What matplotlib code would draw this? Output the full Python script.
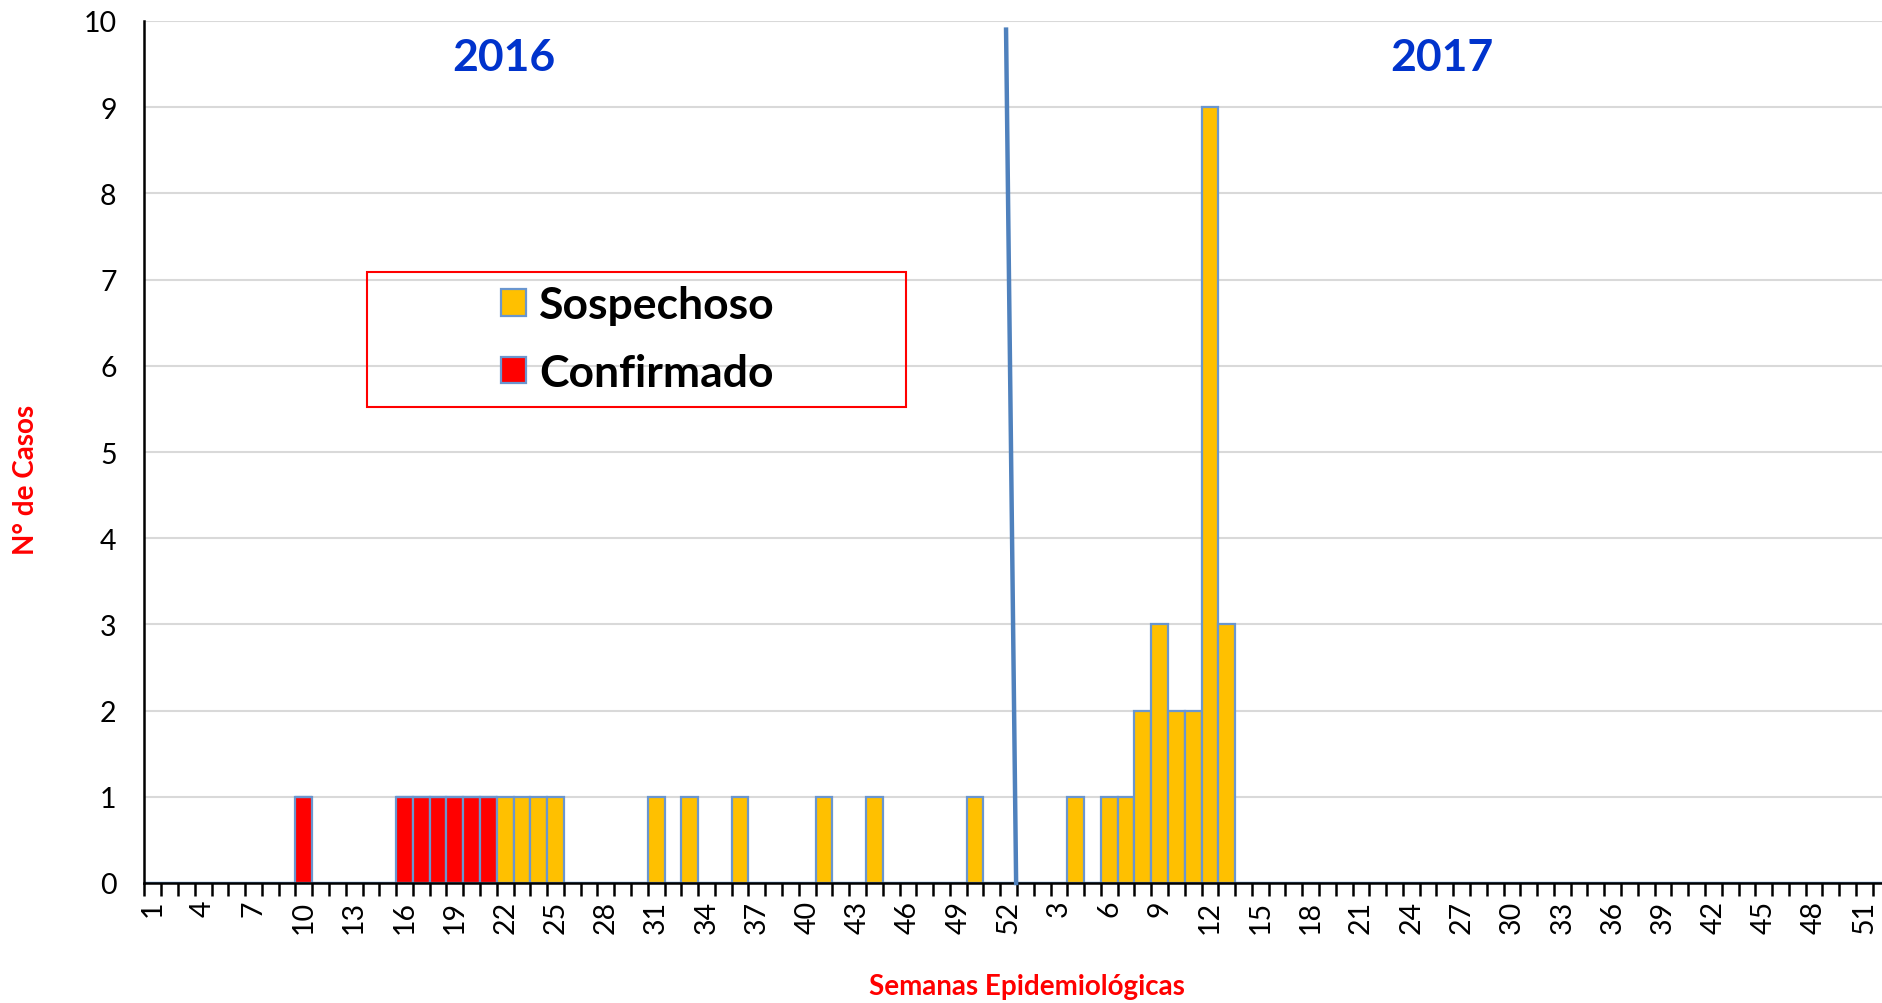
import matplotlib
matplotlib.use("Agg")
import matplotlib.pyplot as plt
from matplotlib.patches import Patch, Rectangle
import numpy as np

# weeks of each year shown on the x axis
weeks_2016 = list(range(1, 53))
weeks_2017 = list(range(1, 53))

# confirmed cases (2016)
conf_2016_weeks = [10, 16, 17, 18, 19, 20, 21]
conf_2016_counts = [1, 1, 1, 1, 1, 1, 1]

# suspected cases
susp_2016_weeks = [22, 23, 24, 25, 31, 33, 36, 41, 44, 50]
susp_2016_counts = [1, 1, 1, 1, 1, 1, 1, 1, 1, 1]
susp_2017_weeks = [4, 6, 7, 8, 9, 10, 11, 12, 13]
susp_2017_counts = [1, 1, 1, 2, 3, 2, 2, 9, 3]

# hand-drawn year separator (x in category index, y in cases)
sep_x = [50.85, 51.45]
sep_y = [9.9, 0]

FONT = ["Lato", "DejaVu Sans"]
plt.rcParams["font.family"] = FONT

C_SUSP = "#FFC000"
C_CONF = "#FF0000"
C_EDGE = "#6A96CF"

n_cat = len(weeks_2016) + len(weeks_2017)
susp = np.zeros(n_cat)
conf = np.zeros(n_cat)
for w, c in zip(conf_2016_weeks, conf_2016_counts):
    conf[w - 1] = c
for w, c in zip(susp_2016_weeks, susp_2016_counts):
    susp[w - 1] = c
for w, c in zip(susp_2017_weeks, susp_2017_counts):
    susp[len(weeks_2016) + w - 1] = c

labels = [str(w) for w in weeks_2016] + [str(w) for w in weeks_2017]
x = np.arange(n_cat)

W, H = 1883, 1004
fig = plt.figure(figsize=(W / 100, H / 100), dpi=100)
ax = fig.add_axes([144.4 / W, 1 - 884 / H, n_cat * 16.78 / W, (884 - 22) / H])

ax.bar(x, conf, width=1.0, color=C_CONF, edgecolor=C_EDGE, linewidth=1.6, zorder=3)
ax.bar(x, susp, width=1.0, bottom=conf, color=C_SUSP, edgecolor=C_EDGE,
       linewidth=1.6, zorder=3)

ax.set_xlim(-0.5, n_cat - 0.5)
ax.set_ylim(0, 10)
ax.set_yticks(range(0, 11))
ax.grid(axis="y", color="#D9D9D9", linewidth=1.5, zorder=0)
ax.tick_params(axis="y", length=0, pad=20, labelsize=20.5)

# tick marks at category boundaries, labels every 3rd week
ax.set_xticks(np.arange(n_cat + 1) - 0.5)
ax.set_xticklabels([])
ax.tick_params(axis="x", which="major", length=9, width=1.8, direction="out")
ax.set_xticks(x[::3], minor=True)
ax.set_xticklabels(labels[::3], minor=True, rotation=90, fontsize=20.5)
ax.tick_params(axis="x", which="minor", length=0, pad=12)

for s in ["top", "right"]:
    ax.spines[s].set_visible(False)
for s in ["left", "bottom"]:
    ax.spines[s].set_linewidth(1.8)
    ax.spines[s].set_zorder(4)

ax.plot(sep_x, sep_y, color="#4F81BD", linewidth=3.2, zorder=5, clip_on=False)

ax.text(20.9, 9.58, "2016", color="#0033CC", fontsize=32, fontweight="bold",
        ha="center", va="center")
ax.text(76.8, 9.58, "2017", color="#0033CC", fontsize=32, fontweight="bold",
        ha="center", va="center")

fig.text(26 / W, 1 - 480 / H, "N° de Casos", color="#FF0000", fontsize=20,
         fontweight="bold", rotation=90, ha="center", va="center")
fig.text(1027 / W, 1 - 987 / H, "Semanas Epidemiológicas", color="#FF0000",
         fontsize=20, fontweight="bold", ha="center", va="center")

# legend with its own red frame
fig.patches.append(Rectangle((367 / W, 1 - 408 / H), (906 - 367) / W, (408 - 273) / H,
                             transform=fig.transFigure, fill=False,
                             edgecolor="#FF0000", linewidth=1.5))
handles = [Patch(facecolor=C_SUSP, edgecolor=C_EDGE, linewidth=1.6, label="Sospechoso"),
           Patch(facecolor=C_CONF, edgecolor=C_EDGE, linewidth=1.6, label="Confirmado")]
fig.legend(handles=handles, loc="center", bbox_to_anchor=(638 / W, 1 - 340 / H),
           frameon=False, prop={"family": FONT, "weight": "bold", "size": 32},
           handlelength=0.55, handleheight=0.55, handletextpad=0.3, labelspacing=0.62)

fig.savefig("out.png", dpi=100)
